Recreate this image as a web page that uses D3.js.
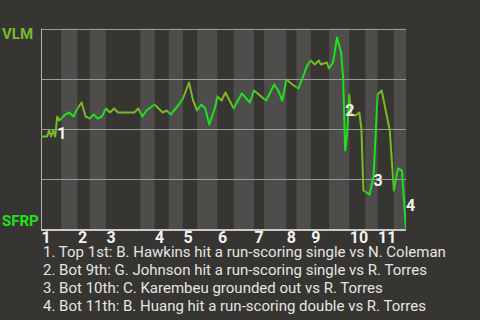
<!DOCTYPE html>
<html><head><meta charset="utf-8">
<script src="https://cdn.jsdelivr.net/npm/d3@7"></script>
<style>
html,body{margin:0;padding:0;background:#373531;}
svg{display:block;font-family:Roboto,"Noto Sans",sans-serif;}
</style>
</head><body>
<svg id="chart" width="480" height="320"></svg>
<script>
// ---------- data ----------
const teams = ["VLM", "SFRP"];            // top = visitor (VLM), bottom = home (SFRP)
const teamColors = ["#79b928", "#1ee01e"];
const inningLabels = ["1","2","3","4","5","6","7","8","9","10","11"];
const topHalfStarts = [0, 18, 32, 56, 70, 87, 105, 121, 133, 152, 166];
const bottomHalfStarts = [10, 24, 49, 63, 77, 95, 110, 126, 142, 160, 174];
const gameEnd = 180;
const events = [0,3,4,5,6,7,8,9,10,12,14,16,18,20,22,24,26,28,30,32,34,36,38,46,48,50,52,56,60,62,64,68,70,73,75,77,79,81,83,86,87,89,91,95,99,103,105,111,115,117,119,121,124,127,130,131,133,135,137,138,141,142,144,146,148,149,150,151,152,153,155,157,158,159,162,164,166,168,172,174,176,178,179,180];
const winProbVLM = [0.46,0.46,0.49,0.46,0.49,0.46,0.56,0.54,0.55,0.57,0.58,0.56,0.60,0.63,0.56,0.55,0.57,0.55,0.56,0.60,0.58,0.60,0.58,0.58,0.60,0.56,0.59,0.62,0.58,0.59,0.57,0.62,0.65,0.73,0.64,0.59,0.62,0.60,0.52,0.61,0.66,0.64,0.68,0.60,0.675,0.63,0.69,0.64,0.72,0.69,0.64,0.745,0.72,0.70,0.78,0.81,0.84,0.82,0.84,0.82,0.83,0.80,0.83,0.955,0.88,0.75,0.39,0.48,0.67,0.57,0.565,0.58,0.50,0.19,0.17,0.26,0.67,0.69,0.49,0.19,0.30,0.29,0.14,0.0];
const keyPlayLabels = ["1","2","3","4"];
const keyPlayEvents = [8, 150, 164, 180];
const keyPlayLabelProb = [0.4475, 0.5625, 0.2125, 0.0875];
const keyPlayNotes = [
  "1. Top 1st: B. Hawkins hit a run-scoring single vs N. Coleman",
  "2. Bot 9th: G. Johnson hit a run-scoring single vs R. Torres",
  "3. Bot 10th: C. Karembeu grounded out vs R. Torres",
  "4. Bot 11th: B. Huang hit a run-scoring double vs R. Torres"
];
const gridProbs = [0.25, 0.5, 0.75, 1.0];

// ---------- chart ----------
const svg = d3.select("#chart");
const W = 480, H = 320;
const plot = {left: 41, right: 406, top: 28.5, bottom: 228.5};
const x = d3.scaleLinear().domain([0, gameEnd]).range([plot.left, plot.right]);
const y = d3.scaleLinear().domain([0, 1]).range([plot.bottom, plot.top]);

svg.append("rect").attr("width", W).attr("height", H).attr("fill", "#373531");

// half-inning bands
const halves = [];
topHalfStarts.forEach((s, i) => {
  halves.push({start: s, end: bottomHalfStarts[i], team: 0});
  halves.push({start: bottomHalfStarts[i], end: i + 1 < topHalfStarts.length ? topHalfStarts[i + 1] : gameEnd, team: 1});
});
svg.append("g").selectAll("rect").data(halves.filter(h => h.team === 1)).join("rect")
  .attr("x", d => x(d.start)).attr("width", d => x(d.end) - x(d.start))
  .attr("y", plot.top).attr("height", plot.bottom + 1 - plot.top)
  .attr("fill", "#4e4d4b");

// grid lines
svg.append("g").selectAll("line").data(gridProbs).join("line")
  .attr("x1", plot.left).attr("x2", plot.right)
  .attr("y1", d => Math.round(y(d)) + 0.5).attr("y2", d => Math.round(y(d)) + 0.5)
  .attr("stroke", "#9b9a98").attr("stroke-width", 1);

// axis lines
svg.append("line").attr("x1", plot.left + 0.5).attr("x2", plot.left + 0.5)
  .attr("y1", plot.top).attr("y2", plot.bottom + 2)
  .attr("stroke", "#b0afad").attr("stroke-width", 1);
svg.append("line").attr("x1", plot.left).attr("x2", plot.right)
  .attr("y1", plot.bottom + 1.5).attr("y2", plot.bottom + 1.5)
  .attr("stroke", "#c9c8c6").attr("stroke-width", 2);

// clip paths per batting team
const defs = svg.append("defs");
[0, 1].forEach(t => {
  defs.append("clipPath").attr("id", "clip" + t).selectAll("rect")
    .data(halves.filter(h => h.team === t)).join("rect")
    .attr("x", d => x(d.start)).attr("width", d => x(d.end) - x(d.start))
    .attr("y", 0).attr("height", H);
});

const pts = events.map((e, i) => ({e, p: winProbVLM[i]}));
const line = d3.line().x(d => x(d.e)).y(d => y(d.p));
[0, 1].forEach(t => {
  svg.append("path").datum(pts)
    .attr("d", line).attr("fill", "none")
    .attr("stroke", teamColors[t]).attr("stroke-width", 2)
    .attr("stroke-linejoin", "round")
    .attr("clip-path", "url(#clip" + t + ")");
});

// key play markers
svg.append("g").selectAll("text").data(keyPlayLabels).join("text")
  .attr("x", (d, i) => x(keyPlayEvents[i]))
  .attr("y", (d, i) => y(keyPlayLabelProb[i]))
  .attr("fill", "#f2f2f2").attr("font-size", 16).attr("font-weight", "bold")
  .text(d => d);

// inning labels
svg.append("g").selectAll("text").data(inningLabels).join("text")
  .attr("x", (d, i) => x(topHalfStarts[i]) + 0.5)
  .attr("y", 243)
  .attr("fill", "#f2f2f2").attr("font-size", 16).attr("font-weight", "bold")
  .text(d => d);

// team labels
svg.append("text").attr("x", 2).attr("y", 39).attr("fill", teamColors[0])
  .attr("font-size", 15).attr("font-weight", "bold").text(teams[0]);
svg.append("text").attr("x", 2).attr("y", 226).attr("fill", teamColors[1])
  .attr("font-size", 15).attr("font-weight", "bold").text(teams[1]);

// notes
svg.append("g").selectAll("text").data(keyPlayNotes).join("text")
  .attr("x", 43).attr("y", (d, i) => 257 + i * 18)
  .attr("fill", "#e4e4e4").attr("font-size", 15)
  .text(d => d);
</script>
</body></html>
